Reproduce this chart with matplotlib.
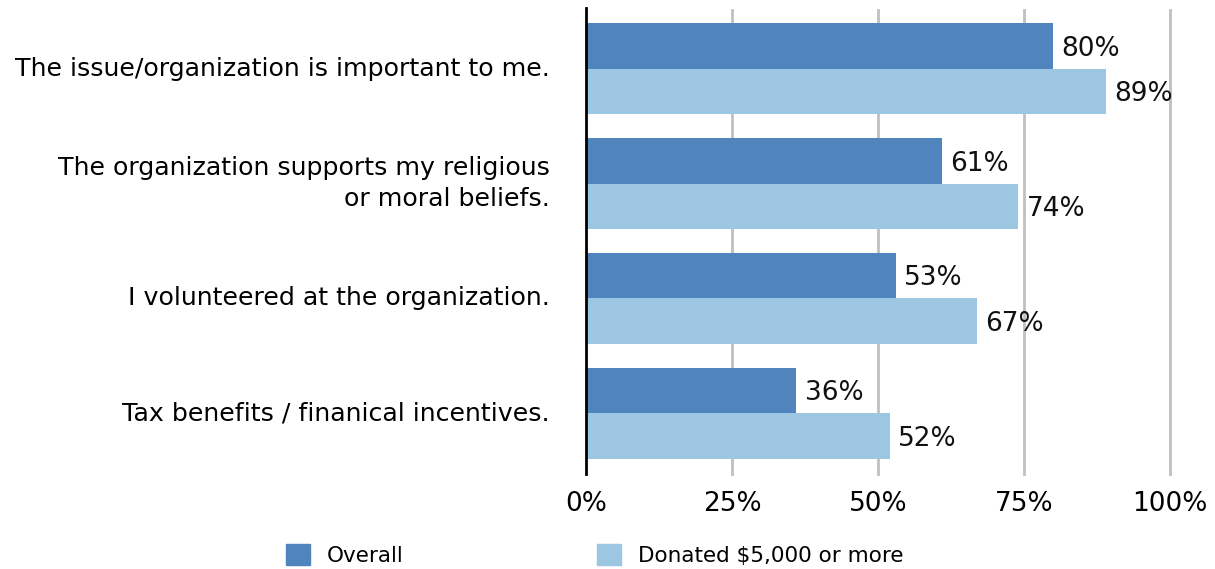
import matplotlib
matplotlib.use("Agg")
import matplotlib.pyplot as plt
import numpy as np
from matplotlib.patches import Patch

categories = [
    "The issue/organization is important to me.",
    "The organization supports my religious\nor moral beliefs.",
    "I volunteered at the organization.",
    "Tax benefits / finanical incentives.",
]
overall = [80, 61, 53, 36]
donated = [89, 74, 67, 52]
series_names = ["Overall", "Donated $5,000 or more"]
xticks = [0, 25, 50, 75, 100]
xticklabels = ["0%", "25%", "50%", "75%", "100%"]

c_dark = "#5084bc"
c_light = "#9cc6e1"

plt.rcParams["font.family"] = ["DejaVu Sans"]

fig = plt.figure(figsize=(12.15, 5.69), dpi=100)
ax = fig.add_axes([586/1215, 1-474/569, (1170-586)/1215, (474-8)/569])

y = np.arange(len(categories))
h = 0.395
b1 = ax.barh(y - h/2, overall, height=h, color=c_dark, zorder=3)
b2 = ax.barh(y + h/2, donated, height=h, color=c_light, zorder=3)

for bars, vals in ((b1, overall), (b2, donated)):
    for rect, v in zip(bars, vals):
        ax.annotate(f"{v}%", (v, rect.get_y() + rect.get_height()/2),
                    xytext=(6, -2), textcoords="offset points",
                    ha="left", va="center", fontsize=19, color="#111111", zorder=4)

ax.set_xlim(0, 100)
ax.set_ylim(3.53, -0.53)
ax.set_xticks(xticks)
ax.set_xticklabels(xticklabels, fontsize=19)
ax.set_yticks(y)
ax.set_yticklabels(categories, fontsize=18.2, ha="right", va="center", linespacing=1.4)
ax.tick_params(axis="y", length=0, pad=26)
ax.tick_params(axis="x", length=0, pad=12)

for t in xticks[1:]:
    ax.axvline(t, color="#c0c0c0", linewidth=2, zorder=1, ymax=0.995, clip_on=False)
for s in ["top", "right", "bottom"]:
    ax.spines[s].set_visible(False)
ax.spines["left"].set_linewidth(2)
ax.spines["left"].set_color("black")
ax.spines["left"].set_zorder(5)

handles = [Patch(color=c_dark), Patch(color=c_light)]
fig.legend(handles, series_names, loc="center left",
           bbox_to_anchor=(286/1215, 1-555/569), ncol=2, frameon=False,
           fontsize=15.5, handlelength=1.1, handleheight=1.1,
           handletextpad=0.8, columnspacing=9.0, borderpad=0, borderaxespad=0)

fig.savefig("out.png", dpi=100)
